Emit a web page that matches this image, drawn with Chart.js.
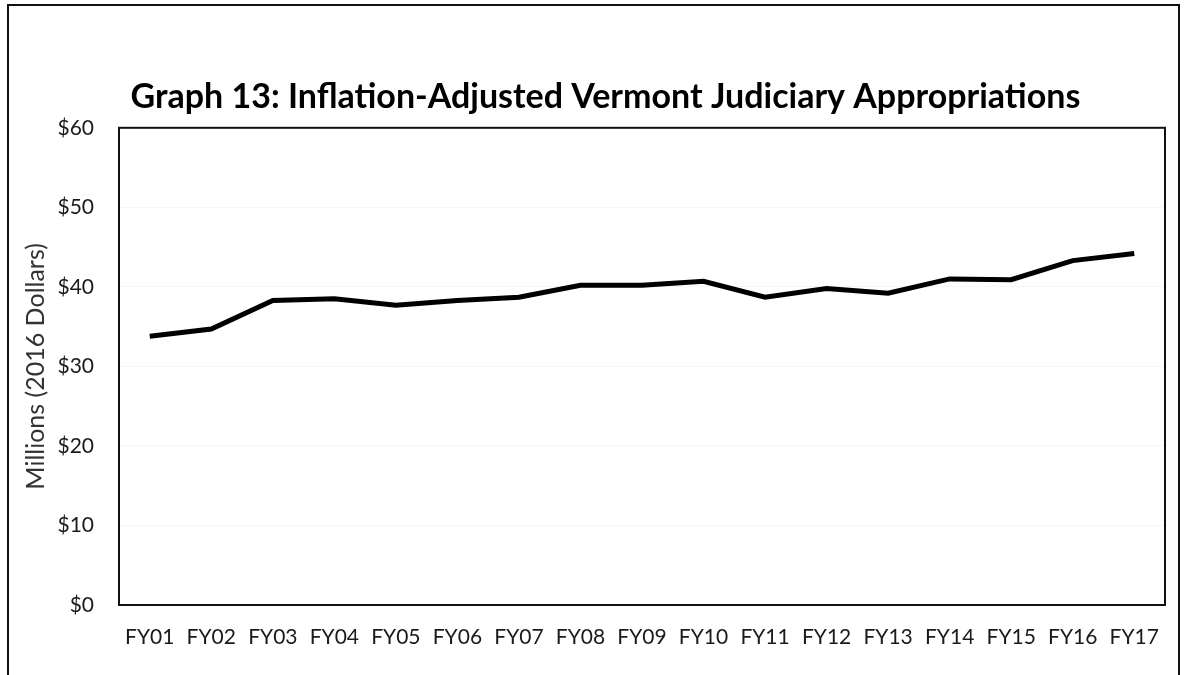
<!DOCTYPE html>
<html>
<head>
<meta charset="utf-8">
<script src="https://cdn.jsdelivr.net/npm/chart.js@4.4.0/dist/chart.umd.min.js"></script>
<style>
  html, body { margin: 0; padding: 0; background: #fff; }
  #wrap { position: relative; width: 1185px; height: 675px; overflow: hidden; }
  #frame { position: absolute; left: 7px; top: 4px; width: 1173px; height: 700px;
           border: 2px solid #111; box-sizing: border-box; }
  canvas { position: absolute; left: 0; top: 0; }
</style>
</head>
<body>
<div id="wrap">
  <div id="frame"></div>
  <canvas id="chart" width="1185" height="675"></canvas>
</div>
<script>
// Graph 13 – inflation-adjusted appropriations, millions of 2016 dollars

const years = ['FY01','FY02','FY03','FY04','FY05','FY06','FY07','FY08','FY09',
               'FY10','FY11','FY12','FY13','FY14','FY15','FY16','FY17'];
const appropriations = [33.8, 34.7, 38.3, 38.5, 37.7, 38.3, 38.7, 40.2, 40.2,
                        40.7, 38.7, 39.8, 39.2, 41.0, 40.9, 43.3, 44.2];
const yTicks = [0, 10, 20, 30, 40, 50, 60];

const FONT = 'Lato, "Open Sans", sans-serif';

// black frame round the plot area
const plotBorder = {
  id: 'plotBorder',
  afterDraw(chart){
    const { ctx, chartArea: a } = chart;
    ctx.save();
    ctx.strokeStyle = '#111';
    ctx.lineWidth = 2;
    ctx.strokeRect(a.left, a.top, a.right - a.left, a.bottom - a.top);
    ctx.restore();
  }
};

// title sits centred on the page, not on the area left of the right padding
const titleShift = {
  id: 'titleShift',
  afterLayout(chart){
    const t = chart.titleBlock;
    if(t){ t.left += 46; }
  }
};

new Chart(document.getElementById('chart'), {
  type: 'line',
  data: {
    labels: years,
    datasets: [{
      data: appropriations,
      borderColor: '#000',
      borderWidth: 5,
      pointRadius: 0,
      tension: 0,
      fill: false
    }]
  },
  options: {
    responsive: false,
    animation: false,
    layout: { padding: { left: 0, right: 20, top: 0, bottom: 0 } },
    plugins: {
      legend: { display: false },
      tooltip: { enabled: false },
      title: {
        display: true,
        text: 'Graph 13: Inflation-Adjusted Vermont Judiciary Appropriations',
        color: '#000',
        font: { family: FONT, size: 34, weight: 'bold' },
        padding: { top: 77, bottom: 10 }
      }
    },
    scales: {
      x: {
        offset: true,
        grid: { display: false, drawTicks: false },
        border: { display: false },
        ticks: { color: '#1a1a1a', font: { family: FONT, size: 21 }, padding: 20, maxRotation: 0, autoSkip: false },
        afterFit(s){ s.height = 70; }
      },
      y: {
        min: 0, max: 60,
        afterBuildTicks(s){ s.ticks = yTicks.map(v => ({ value: v })); },
        grid: { color: 'rgba(0,0,0,0.035)', drawTicks: false },
        border: { display: false },
        ticks: { color: '#1a1a1a', font: { family: FONT, size: 21 }, padding: 25,
                 callback: v => '$' + v },
        title: { display: true, text: 'Millions (2016 Dollars)', color: '#333',
                 font: { family: FONT, size: 25 }, padding: { top: 21, bottom: 0 } },
        afterFit(s){ s.width = 119; }
      }
    }
  },
  plugins: [plotBorder, titleShift]
});
</script>
</body>
</html>
